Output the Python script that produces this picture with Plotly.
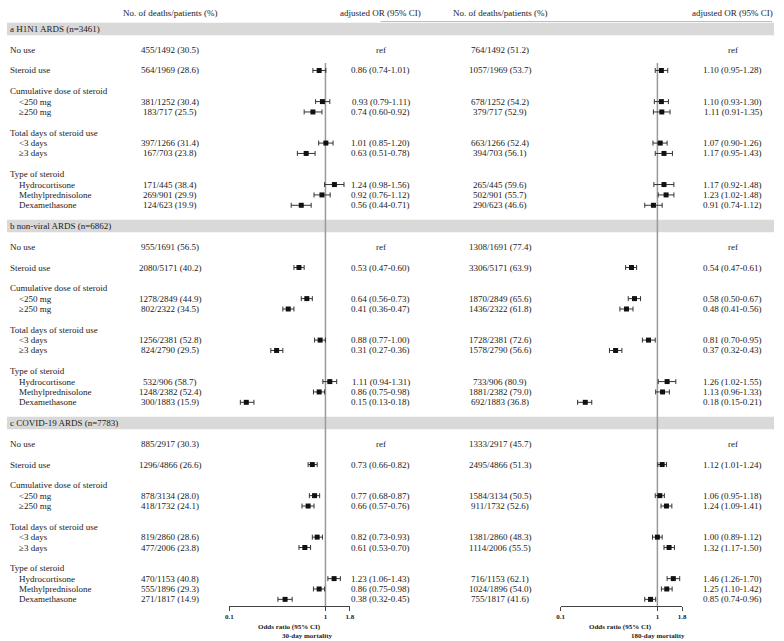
import numpy as np
import plotly.graph_objects as go

FONT = "Liberation Serif"
TXT = "#1a1a1a"

sections = ["a H1N1 ARDS (n=3461)", "b non-viral ARDS (n=6862)", "c COVID-19 ARDS (n=7783)"]

row_labels = ["No use", "Steroid use", "Cumulative dose of steroid", "<250 mg", "≥250 mg",
              "Total days of steroid use", "<3 days", "≥3 days", "Type of steroid",
              "Hydrocortisone", "Methylprednisolone", "Dexamethasone"]
row_indent = [0, 0, 0, 1, 1, 0, 1, 1, 0, 1, 1, 1]
row_offset = [2, 4, 6, 7, 8, 10, 11, 12, 14, 15, 16, 17]
data_rows = [0, 1, 3, 4, 6, 7, 9, 10, 11]

# ---- 30-day mortality ----
counts30 = [
    ["455/1492 (30.5)", "564/1969 (28.6)", "381/1252 (30.4)", "183/717 (25.5)", "397/1266 (31.4)",
     "167/703 (23.8)", "171/445 (38.4)", "269/901 (29.9)", "124/623 (19.9)"],
    ["955/1691 (56.5)", "2080/5171 (40.2)", "1278/2849 (44.9)", "802/2322 (34.5)", "1256/2381 (52.8)",
     "824/2790 (29.5)", "532/906 (58.7)", "1248/2382 (52.4)", "300/1883 (15.9)"],
    ["885/2917 (30.3)", "1296/4866 (26.6)", "878/3134 (28.0)", "418/1732 (24.1)", "819/2860 (28.6)",
     "477/2006 (23.8)", "470/1153 (40.8)", "555/1896 (29.3)", "271/1817 (14.9)"],
]
or30 = [
    [None, 0.86, 0.93, 0.74, 1.01, 0.63, 1.24, 0.92, 0.56],
    [None, 0.53, 0.64, 0.41, 0.88, 0.31, 1.11, 0.86, 0.15],
    [None, 0.73, 0.77, 0.66, 0.82, 0.61, 1.23, 0.86, 0.38],
]
lo30 = [
    [None, 0.74, 0.79, 0.60, 0.85, 0.51, 0.98, 0.76, 0.44],
    [None, 0.47, 0.56, 0.36, 0.77, 0.27, 0.94, 0.75, 0.13],
    [None, 0.66, 0.68, 0.57, 0.73, 0.53, 1.06, 0.75, 0.32],
]
hi30 = [
    [None, 1.01, 1.11, 0.92, 1.20, 0.78, 1.56, 1.12, 0.71],
    [None, 0.60, 0.73, 0.47, 1.00, 0.36, 1.31, 0.98, 0.18],
    [None, 0.82, 0.87, 0.76, 0.93, 0.70, 1.43, 0.98, 0.45],
]

# ---- 180-day mortality ----
counts180 = [
    ["764/1492 (51.2)", "1057/1969 (53.7)", "678/1252 (54.2)", "379/717 (52.9)", "663/1266 (52.4)",
     "394/703 (56.1)", "265/445 (59.6)", "502/901 (55.7)", "290/623 (46.6)"],
    ["1308/1691 (77.4)", "3306/5171 (63.9)", "1870/2849 (65.6)", "1436/2322 (61.8)", "1728/2381 (72.6)",
     "1578/2790 (56.6)", "733/906 (80.9)", "1881/2382 (79.0)", "692/1883 (36.8)"],
    ["1333/2917 (45.7)", "2495/4866 (51.3)", "1584/3134 (50.5)", "911/1732 (52.6)", "1381/2860 (48.3)",
     "1114/2006 (55.5)", "716/1153 (62.1)", "1024/1896 (54.0)", "755/1817 (41.6)"],
]
or180 = [
    [None, 1.10, 1.10, 1.11, 1.07, 1.17, 1.17, 1.23, 0.91],
    [None, 0.54, 0.58, 0.48, 0.81, 0.37, 1.26, 1.13, 0.18],
    [None, 1.12, 1.06, 1.24, 1.00, 1.32, 1.46, 1.25, 0.85],
]
lo180 = [
    [None, 0.95, 0.93, 0.91, 0.90, 0.95, 0.92, 1.02, 0.74],
    [None, 0.47, 0.50, 0.41, 0.70, 0.32, 1.02, 0.96, 0.15],
    [None, 1.01, 0.95, 1.09, 0.89, 1.17, 1.26, 1.10, 0.74],
]
hi180 = [
    [None, 1.28, 1.30, 1.35, 1.26, 1.43, 1.48, 1.48, 1.12],
    [None, 0.61, 0.67, 0.56, 0.95, 0.43, 1.55, 1.33, 0.21],
    [None, 1.24, 1.18, 1.41, 1.12, 1.50, 1.70, 1.42, 0.96],
]

tick_vals = [0.1, 1, 1.8]
tick_text = ["0.1", "1", "1.8"]

# ---------------- layout geometry (pixels) ----------------
W, H = 784, 641
ROW0 = 29.0      # pixel of first band centre
UNIT = 10.37     # pixel per row unit
SEC = 19         # row units per section
AXIS_PX = 606    # pixel of x-axis line


def px2idx(p):
    return (p - ROW0) / UNIT


def fx(p):
    return p / W


def fy(p):
    return 1 - p / H


y_top = px2idx(0)
y_bot = px2idx(AXIS_PX)

fig = go.Figure()
ann = []
shapes = []


def text(x, y, s, anchor="center", yref="y", size=9, bold=False):
    ann.append(dict(x=x, y=y, xref="paper", yref=yref, text=s, showarrow=False,
                    xanchor=anchor, yanchor="middle", borderpad=0,
                    font=dict(family=FONT, size=size, color=TXT,
                              weight="bold" if bold else "normal")))


for cx in (168, 502):
    text(fx(cx), px2idx(13), "No. of deaths/patients (%)")
for cx in (381, 737):
    text(fx(cx), px2idx(13), "adjusted OR (95% CI)")

# thin rule under the right-hand header
shapes.append(dict(type="line", xref="paper", yref="y", x0=fx(381), x1=fx(777),
                   y0=px2idx(21.5), y1=px2idx(21.5), line=dict(color="#bdbdbd", width=1)))


def fmt(o, l, h):
    return f"{o:.2f} ({l:.2f}-{h:.2f})"


for si, sec in enumerate(sections):
    base = si * SEC
    shapes.append(dict(type="rect", xref="paper", yref="y", x0=fx(3), x1=fx(779),
                       y0=base - 0.6, y1=base + 0.6, fillcolor="#d9d9d9",
                       line=dict(width=0), layer="below"))
    text(fx(5), base, sec, anchor="left")
    for ri, lab in enumerate(row_labels):
        text(fx(14 if row_indent[ri] else 5), base + row_offset[ri], lab, anchor="left")
    for k, ri in enumerate(data_rows):
        yy = base + row_offset[ri]
        text(fx(168), yy, counts30[si][k])
        text(fx(502), yy, counts180[si][k])
        text(fx(381), yy, "ref" if or30[si][k] is None else fmt(or30[si][k], lo30[si][k], hi30[si][k]))
        text(fx(737), yy, "ref" if or180[si][k] is None else fmt(or180[si][k], lo180[si][k], hi180[si][k]))

for xr in ("x", "x2"):
    shapes.append(dict(type="line", xref=xr, yref="y", x0=1, x1=1,
                       y0=px2idx(63), y1=y_bot, line=dict(color="#9a9a9a", width=1.5),
                       layer="below"))


def add_forest(ors, los, his, xaxis):
    xs, ys, ep, em = [], [], [], []
    for si in range(3):
        base = si * SEC
        for k, ri in enumerate(data_rows):
            o = ors[si][k]
            if o is None:
                continue
            xs.append(o)
            ys.append(base + row_offset[ri])
            ep.append(his[si][k] - o)
            em.append(o - los[si][k])
    fig.add_trace(go.Scatter(
        x=xs, y=ys, mode="markers", xaxis=xaxis, yaxis="y",
        marker=dict(symbol="square", size=5, color="#111111"),
        error_x=dict(type="data", symmetric=False, array=ep, arrayminus=em,
                     color="#333333", thickness=1, width=2.5),
        showlegend=False, hoverinfo="skip", cliponaxis=False))


add_forest(or30, lo30, hi30, "x")
add_forest(or180, lo180, hi180, "x2")

axis_common = dict(type="log", tickvals=tick_vals, ticktext=tick_text,
                   showline=True, linecolor="#444444", linewidth=1,
                   ticks="outside", ticklen=4, tickcolor="#444444", tickwidth=1,
                   showgrid=False, zeroline=False, anchor="y",
                   tickfont=dict(family=FONT, size=7, color=TXT, weight="bold"),
                   range=[np.log10(0.1) - 1e-4, np.log10(1.8) + 1e-4])

text(fx(289), fy(627), "Odds ratio (95% CI)", yref="paper", size=7, bold=True)
text(fx(307), fy(636), "30-day mortality", yref="paper", size=7, bold=True)
text(fx(624), fy(627), "Odds ratio (95% CI)", yref="paper", size=7, bold=True)
text(fx(662), fy(636), "180-day mortality", yref="paper", size=7, bold=True)

fig.update_layout(
    width=W, height=H, margin=dict(l=0, r=0, t=0, b=0),
    paper_bgcolor="white", plot_bgcolor="rgba(0,0,0,0)",
    xaxis=dict(domain=[fx(228), fx(350)], **axis_common),
    xaxis2=dict(domain=[fx(563), fx(686)], **axis_common),
    yaxis=dict(domain=[fy(AXIS_PX), 1], range=[y_bot, y_top], visible=False,
               showgrid=False, zeroline=False),
    annotations=ann, shapes=shapes, showlegend=False,
)

fig.write_html("out.html", config={"displayModeBar": False, "staticPlot": True},
               post_script="document.body.style.margin='0';document.body.style.padding='0';"
                           "document.body.style.overflow='hidden';")
